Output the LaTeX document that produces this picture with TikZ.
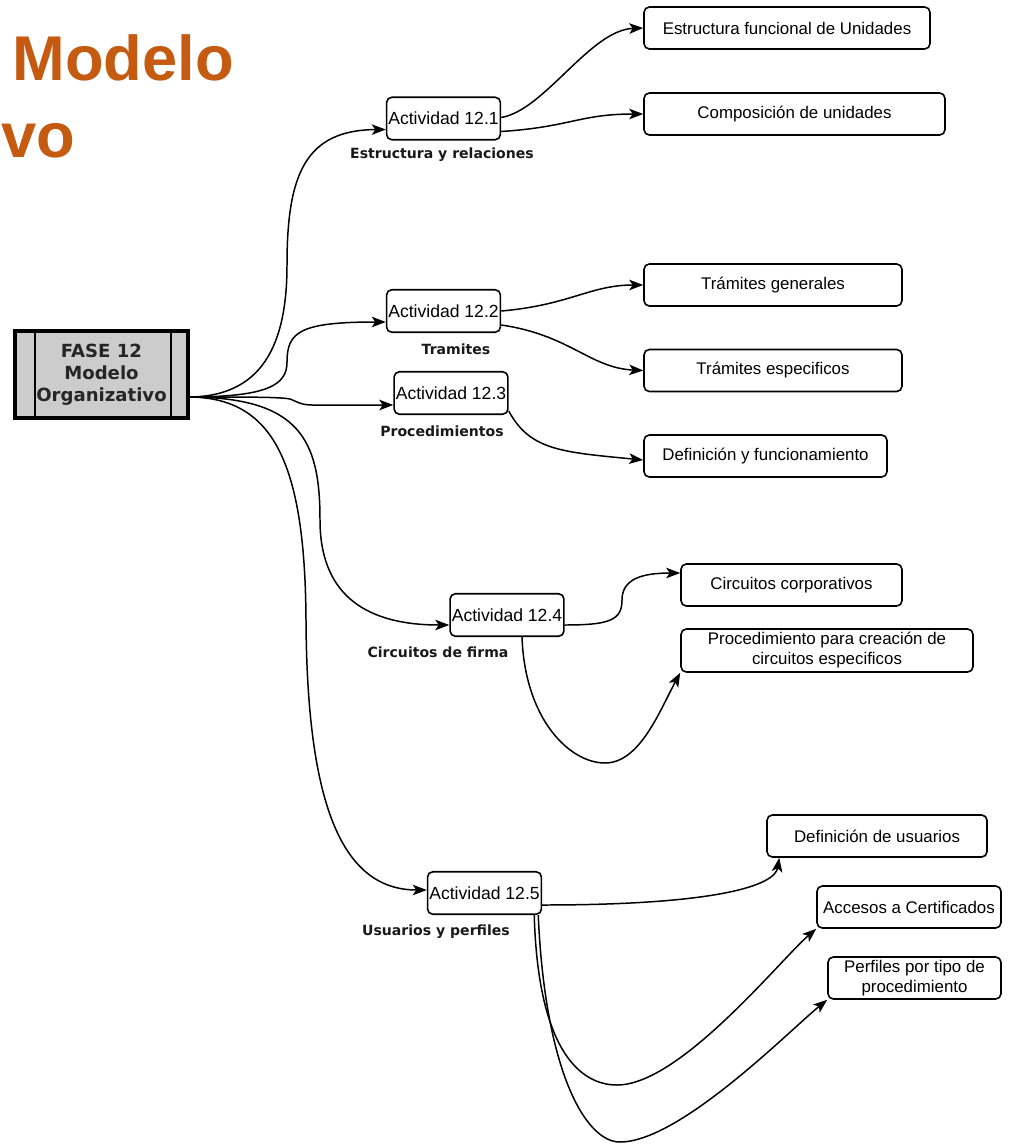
\documentclass[tikz,border=0pt]{standalone}
\usepackage{fontspec}
\setmainfont{Liberation Sans}
\newfontfamily\lblfont{DejaVu Sans}
\usetikzlibrary{arrows.meta,calc}
\definecolor{titleorange}{RGB}{197,90,17}
\definecolor{fasegray}{RGB}{204,204,204}
\begin{document}
\begin{tikzpicture}[x=0.02cm,y=-0.02cm,
  actbox/.style={draw=black,line width=0.9pt,rounded corners=3pt,fill=white,
    minimum width=2.26cm,minimum height=0.85cm,inner sep=1pt,font=\fontsize{10}{12}\selectfont},
  resbox/.style={draw=black,line width=0.9pt,rounded corners=3pt,fill=white,
    minimum height=0.84cm,inner sep=1pt,align=center,font=\fontsize{9.6}{11.4}\selectfont},
  actlabel/.style={font=\lblfont\bfseries\fontsize{8}{10}\selectfont,text=black!90,inner sep=0pt},
  conn/.style={line width=0.85pt,-{Stealth[length=8pt,width=6pt,inset=2pt]}},
  titletext/.style={font=\bfseries\fontsize{36}{40}\selectfont,text=titleorange,inner sep=0pt}
]
\useasboundingbox (0,0) rectangle (1009,1146);
\fill[white] (0,0) rectangle (1009,1146);
\node[titletext,anchor=base west] (t1) at (12,80) {Modelo};
\node[titletext,anchor=base west] (t2) at (1,157) {vo};

% FASE box
\node[draw=black,line width=2.3pt,fill=fasegray,minimum width=3.46cm,minimum height=1.74cm,
  inner sep=0pt,align=center,font=\lblfont\bfseries\fontsize{10.3}{12.5}\selectfont,text=black!85]
  (fase) at (101.5,374.5) {FASE 12\\Modelo\\Organizativo};
\draw[line width=1.7pt] (35,331) -- (35,418);
\draw[line width=1.7pt] (171,331) -- (171,418);
\coordinate (fo) at (188,397);

% Actividades
\node[actbox] (a1) at (443.5,118.5) {Actividad 12.1};
\node[actbox] (a2) at (443.5,311) {Actividad 12.2};
\node[actbox] (a3) at (451,393) {Actividad 12.3};
\node[actbox] (a4) at (507,615) {Actividad 12.4};
\node[actbox] (a5) at (484.5,893) {Actividad 12.5};

\node[actlabel] (l1) at (442,155) {Estructura y relaciones};
\node[actlabel] (l2) at (456,349) {Tramites};
\node[actlabel] (l3) at (442,431) {Procedimientos};
\node[actlabel] (l4) at (438,652) {Circuitos de firma};
\node[actlabel] (l5) at (436,932) {Usuarios y perfiles};

% Resultados
\node[resbox,minimum width=5.72cm] (r1) at (787,28) {Estructura funcional de Unidades};
\node[resbox,minimum width=6.02cm] (r2) at (794.5,114) {Composición de unidades};
\node[resbox,minimum width=5.16cm] (r3) at (773,285) {Trámites generales};
\node[resbox,minimum width=5.16cm] (r4) at (773,370.5) {Trámites especificos};
\node[resbox,minimum width=4.86cm] (r5) at (765.5,456) {Definición y funcionamiento};
\node[resbox,minimum width=4.42cm] (r6) at (791.5,585) {Circuitos corporativos};
\node[resbox,minimum width=5.84cm,minimum height=0.86cm] (r7) at (827,650.5) {Procedimiento para creación de\\circuitos especificos};
\node[resbox,minimum width=4.4cm] (r8) at (877,836) {Definición de usuarios};
\node[resbox,minimum width=3.68cm] (r9) at (909,907) {Accesos a Certificados};
\node[resbox,minimum width=3.46cm] (r10) at (914.5,978) {Perfiles por tipo de\\procedimiento};

% FASE -> actividades
\draw[conn] (fo) .. controls (262,397) and (287,345) .. (287,265)
   .. controls (287,175) and (305,130) .. ($(a1.west)+(0,11)$);
\draw[conn] (fo) .. controls (268,397) and (287,385) .. (287,362)
   .. controls (287,332) and (300,322) .. ($(a2.west)+(0,11)$);
\draw[conn] (fo) .. controls (250,397) and (280,397) .. (290,399)
   .. controls (296,401) and (300,405) .. (312,405) -- ($(a3.west)+(0,12)$);
\draw[conn] (fo) .. controls (300,397) and (320,440) .. (320,520)
   .. controls (320,590) and (360,625) .. ($(a4.west)+(0,10)$);
\draw[conn] (fo) .. controls (272,397) and (305,460) .. (306,620)
   .. controls (307,800) and (340,890) .. ($(a5.west)+(0,-3)$);

% actividades -> resultados
\draw[conn] ($(a1.east)+(0,-1)$) .. controls (545,110) and (590,30) .. (r1.west);
\draw[conn] ($(a1.east)+(0,13)$) .. controls (570,127) and (580,114) .. (r2.west);
\draw[conn] (a2.east) .. controls (570,305) and (590,285) .. (r3.west);
\draw[conn] ($(a2.east)+(0,14)$) .. controls (570,335) and (590,368) .. (r4.west);
\draw[conn] ($(a3.south east)+(0,-4)$) .. controls (530,450) and (560,452) .. ($(r5.west)+(0,4)$);
\draw[conn] ($(a4.east)+(0,10)$) .. controls (610,625) and (622,620) .. (622,600)
   .. controls (622,580) and (640,573) .. ($(r6.west)+(0,-12)$);
\draw[conn] ($(a4.south)+(15,0)$) .. controls (525,720) and (570,763) .. (605,763)
   .. controls (640,763) and (660,710) .. (r7.south west);
\draw[conn] ($(a5.east)+(0,12)$) .. controls (720,905) and (775,885) .. ($(r8.south west)+(13,0)$);
\draw[conn] ($(a5.south east)+(-8,0)$) .. controls (538,1050) and (580,1085) .. (617,1085)
   .. controls (680,1085) and (780,960) .. (r9.south west);
\draw[conn] ($(a5.south east)+(-4,0)$) .. controls (545,1070) and (585,1142) .. (620,1142)
   .. controls (680,1142) and (790,1030) .. (r10.south west);
\end{tikzpicture}
\end{document}
